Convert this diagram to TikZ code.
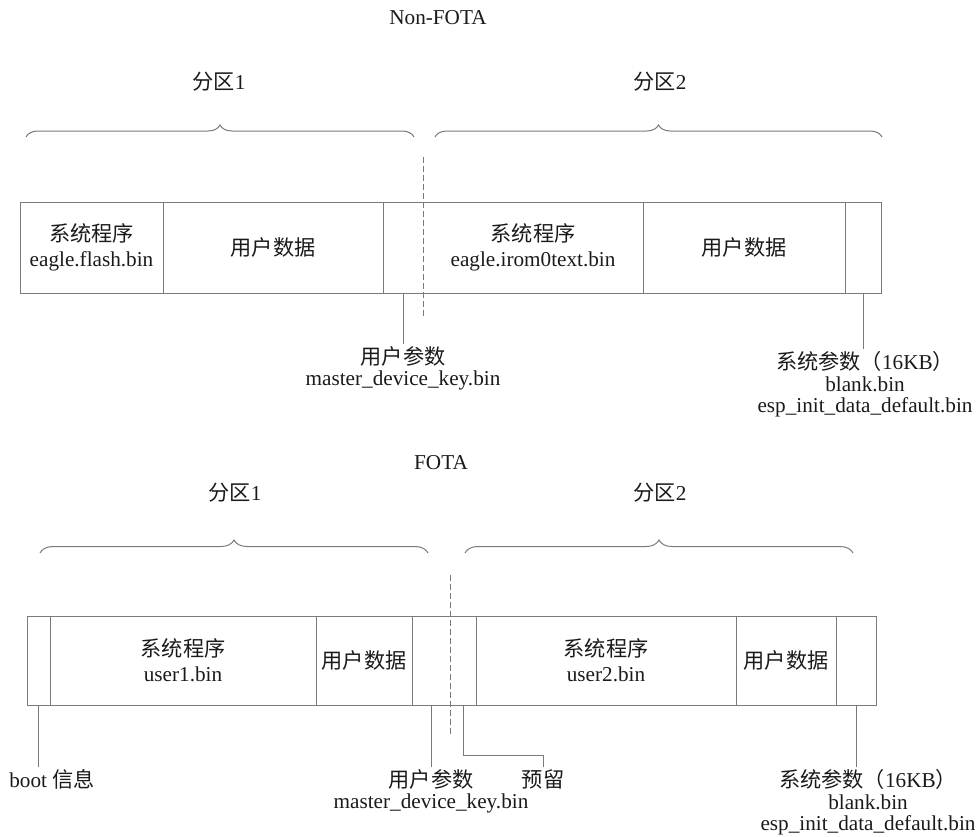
\documentclass[tikz,border=0pt]{standalone}
\usepackage{fontspec}
\setmainfont{Liberation Serif}
\newfontfamily\cjkfont{Noto Sans CJK SC}
\usetikzlibrary{positioning, decorations.pathreplacing, calc}
\definecolor{cLINE}{HTML}{7A7A7A}
\definecolor{cTEXT}{HTML}{1A1A1A}
\newcommand{\zh}[1]{{\cjkfont #1}}
\tikzset{
  cell/.style={
    minimum width=#1,
    inner sep=0pt,
    outer sep=0pt,
    align=center,
    text=cTEXT,
    font=\fontsize{10.6}{12.6}\selectfont
  },
  tcell/.style={cell=#1, minimum height=45.5pt},
  bcell/.style={cell=#1, minimum height=44.5pt},
  bar/.style={draw=cLINE, line width=0.5pt},
  lead/.style={draw=cLINE, line width=0.5pt},
  sepline/.style={draw=cLINE, line width=0.5pt, dash pattern=on 3pt off 1.5pt},
  pbrace/.style={
    draw=cLINE, line width=0.5pt,
    decorate, decoration={brace, amplitude=#1}
  },
  lbl/.style={
    inner sep=1pt,
    align=center,
    text=cTEXT,
    font=\fontsize{10.6}{10.8}\selectfont
  },
  ttl/.style={lbl}
}

\begin{document}
\begin{tikzpicture}[x=0.5pt, y=-0.5pt]
  \useasboundingbox (0,0) rectangle (978,836);

  \node[ttl] (ttlA) at (438,18) {Non-FOTA};
  \node[lbl] (partA1) at (219,82) {\zh{分区}1};
  \node[lbl] (partA2) at (660,82) {\zh{分区}2};
  \draw[pbrace=6pt] (26,137) -- (414,137);
  \draw[pbrace=6pt] (435,137) -- (882,137);

  \node[tcell=71.5pt] (sysA) at (91.5,247.5) {\zh{系统程序}\\eagle.flash.bin};
  \node[tcell=110pt, right=0pt of sysA] (datA) {\zh{用户数据}};
  \node[tcell=20pt, right=0pt of datA] (parA) {};
  \node[tcell=110pt, right=0pt of parA] (sysB) {\zh{系统程序}\\eagle.irom0text.bin};
  \node[tcell=101pt, right=0pt of sysB] (datB) {\zh{用户数据}};
  \node[tcell=18pt, right=0pt of datB] (sparA) {};
  \draw[bar] (sysA.north west) rectangle (sparA.south east);
  \foreach \c in {sysA, datA, sysB, datB}
    \draw[bar] (\c.north east) -- (\c.south east);
  \draw[sepline] ([yshift=22.5pt]parA.north east) -- ([yshift=-13pt]parA.south east);

  \node[lbl, below=25.5pt of parA] (lblParA) {\zh{用户参数}\\master\_device\_key.bin};
  \node[lbl, below=28pt of sparA, xshift=1pt] (lblSparA) {\zh{系统参数（}16KB\zh{）}\\blank.bin\\esp\_init\_data\_default.bin};
  \draw[lead] (parA.south) -- (lblParA.north);
  \draw[lead] (sparA.south) -- (sparA.south |- lblSparA.north);

  \node[ttl] (ttlB) at (441,463) {FOTA};
  \node[lbl] (partB1) at (235,493) {\zh{分区}1};
  \node[lbl] (partB2) at (660,493) {\zh{分区}2};
  \draw[pbrace=6.5pt] (40,553) -- (428,553);
  \draw[pbrace=6.5pt] (465,553) -- (853,553);

  \node[bcell=11.5pt] (boot) at (38.5,660.5) {};
  \node[bcell=133pt, right=0pt of boot] (sysC) {\zh{系统程序}\\user1.bin};
  \node[bcell=48pt, right=0pt of sysC] (datC) {\zh{用户数据}};
  \node[bcell=19pt, right=0pt of datC] (parC) {};
  \node[bcell=13pt, right=0pt of parC] (rsvC) {};
  \node[bcell=130pt, right=0pt of rsvC] (sysD) {\zh{系统程序}\\user2.bin};
  \node[bcell=50pt, right=0pt of sysD] (datD) {\zh{用户数据}};
  \node[bcell=20pt, right=0pt of datD] (sparB) {};
  \draw[bar] (boot.north west) rectangle (sparB.south east);
  \foreach \c in {boot, sysC, datC, rsvC, sysD, datD}
    \draw[bar] (\c.north east) -- (\c.south east);
  \draw[sepline] ([yshift=20.5pt]parC.north east) -- ([yshift=-15pt]parC.south east);

  \node[lbl, below=31pt of boot, xshift=6.75pt] (lblBoot) {boot \zh{信息}};
  \node[lbl, below=31pt of parC] (lblParC) {\zh{用户参数}\\master\_device\_key.bin};
  \node[lbl, below=31pt of rsvC, xshift=40pt] (lblRsv) {\zh{预留}};
  \node[lbl, below=31pt of sparB, xshift=6pt] (lblSparB) {\zh{系统参数（}16KB\zh{）}\\blank.bin\\esp\_init\_data\_default.bin};
  \draw[lead] (boot.south) -- (boot.south |- lblBoot.north);
  \draw[lead] (parC.south) -- (parC.south |- lblParC.north);
  \draw[lead] (rsvC.south) -- ++(0,50) -| (lblRsv.north);
  \draw[lead] (sparB.south) -- (sparB.south |- lblSparB.north);
\end{tikzpicture}
\end{document}
